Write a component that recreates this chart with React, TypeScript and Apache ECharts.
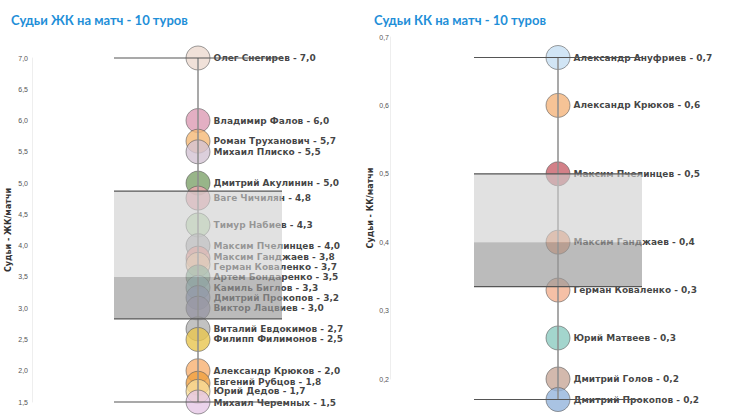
import React, { useEffect, useRef } from "react";
import * as echarts from "echarts";

const titleLeft = "Судьи ЖК на матч - 10 туров";
const titleRight = "Судьи КК на матч - 10 туров";
const axisNameLeft = "Судьи - ЖК/матчи";
const axisNameRight = "Судьи - КК/матчи";

const ykNames = [
  "Олег Снегирев", "Владимир Фалов", "Роман Труханович", "Михаил Плиско", "Дмитрий Акулинин",
  "Ваге Чичилян", "Тимур Набиев", "Максим Пчелинцев", "Максим Ганджаев", "Герман Коваленко",
  "Артем Бондаренко", "Камиль Биглов", "Дмитрий Прокопов", "Виктор Лацвиев", "Виталий Евдокимов",
  "Филипп Филимонов", "Александр Крюков", "Евгений Рубцов", "Юрий Дедов", "Михаил Черемных",
];
const ykValues = [7.0, 6.0, 5.67, 5.5, 5.0, 4.76, 4.33, 4.0, 3.8, 3.7, 3.5, 3.33, 3.17, 3.0, 2.67, 2.5, 2.0, 1.8, 1.67, 1.5];
const ykColors = [
  "#ecd9cf", "#dc9bb4", "#f5b976", "#d3c3d3", "#7ea26c",
  "#f0a8b0", "#bfe3b5", "#b8b8bc", "#f29a90", "#f8c9a0",
  "#7fb08f", "#8fc4c4", "#8fa0c8", "#a09cc0", "#b3b3b3",
  "#e8c64f", "#f8b070", "#f0a040", "#f8dc98", "#e6c8e6",
];
// vertical nudges of crowded labels (px)
const ykLabelShift = [0, 0, 0, 0, 0, 0, 0, 0, -1, 3, 0, 0, 0, 0, 0, 0, 0, -1, 0, 1];
// min, Q1, median, Q3, max
const ykBox = [1.5, 2.83, 3.5, 4.87, 7.0];

const kkNames = [
  "Александр Ануфриев", "Александр Крюков", "Максим Пчелинцев", "Максим Ганджаев",
  "Герман Коваленко", "Юрий Матвеев", "Дмитрий Голов", "Дмитрий Прокопов",
];
const kkValues = [0.67, 0.6, 0.5, 0.4, 0.33, 0.26, 0.2, 0.17];
const kkColors = ["#c6def2", "#f4b47c", "#c8606a", "#f39c70", "#f2b090", "#8ccac0", "#c8a898", "#94b4dc"];
const kkLabelShift = [0, 0, 0, 0, 0, 0, 0, 0];
const kkBox = [0.17, 0.335, 0.4, 0.5, 0.67];

const fmt = (v: number) => v.toFixed(1).replace(".", ",");

const HALF = 84;

function boxRender(params: any, api: any) {
  const c = api.coord([0, api.value(1)]);
  const cx = c[0];
  const yMin = c[1];
  const yQ1 = api.coord([0, api.value(2)])[1];
  const yMed = api.coord([0, api.value(3)])[1];
  const yQ3 = api.coord([0, api.value(4)])[1];
  const yMax = api.coord([0, api.value(5)])[1];
  const dark = "#555555";
  return {
    type: "group",
    children: [
      { type: "line", shape: { x1: cx, y1: yMax, x2: cx, y2: yMin }, style: { stroke: "#8c8c8c", lineWidth: 1.5 } },
      { type: "rect", shape: { x: cx - HALF, y: yQ3, width: 2 * HALF, height: yMed - yQ3 }, style: { fill: "rgba(205,205,205,0.6)" } },
      { type: "rect", shape: { x: cx - HALF, y: yMed, width: 2 * HALF, height: yQ1 - yMed }, style: { fill: "rgba(150,150,150,0.65)" } },
      { type: "line", shape: { x1: cx - HALF, y1: yQ3, x2: cx + HALF, y2: yQ3 }, style: { stroke: dark, lineWidth: 1.2 } },
      { type: "line", shape: { x1: cx - HALF, y1: yQ1, x2: cx + HALF, y2: yQ1 }, style: { stroke: dark, lineWidth: 1.2 } },
      { type: "line", shape: { x1: cx - HALF, y1: yMax, x2: cx + HALF, y2: yMax }, style: { stroke: dark, lineWidth: 1.2 } },
      { type: "line", shape: { x1: cx - HALF, y1: yMin, x2: cx + HALF, y2: yMin }, style: { stroke: dark, lineWidth: 1.2 } },
    ],
  };
}

function scatterData(names: string[], values: number[], colors: string[], shifts: number[]) {
  return names.map((n, i) => ({
    name: n,
    value: [0, values[i]],
    itemStyle: { color: colors[i] },
    label: { offset: [0, shifts[i]] },
  }));
}

const labelFont = {
  fontFamily: "DejaVu Sans",
  fontSize: 9,
  lineHeight: 9,
  fontWeight: "bold" as const,
  color: "#111",
};

export default function App() {
  const ref = useRef<HTMLDivElement>(null);
  useEffect(() => {
    if (!ref.current) return;
    const chart = echarts.init(ref.current, undefined, { renderer: "svg" });
    const yAxisCommon = {
      type: "value" as const,
      nameLocation: "middle" as const,
      nameTextStyle: { fontFamily: "DejaVu Sans", fontSize: 8, fontWeight: "bold" as const, color: "#333" },
      splitLine: { show: false },
      axisTick: { show: false },
      axisLine: { show: true, lineStyle: { color: "#eeeeee", width: 1 } },
      axisLabel: { fontFamily: "Liberation Sans", fontSize: 7, color: "#555", formatter: (v: number) => fmt(v) },
    };
    const scatterCommon = {
      type: "scatter" as const,
      z: 2,
      clip: false,
      symbolSize: 24,
      itemStyle: { opacity: 0.8, borderColor: "rgba(80,80,80,0.7)", borderWidth: 1 },
      label: {
        show: true,
        position: "right" as const,
        distance: 3,
        ...labelFont,
        formatter: (p: any) => `${p.name} - ${fmt(p.value[1])}`,
      },
    };
    chart.setOption({
      animation: false,
      backgroundColor: "#ffffff",
      title: [
        { text: titleLeft, left: 6, top: 8, textStyle: { fontFamily: "Lato", fontWeight: "bold", fontSize: 13, color: "#1f8fd8" } },
        { text: titleRight, left: 369, top: 8, textStyle: { fontFamily: "Lato", fontWeight: "bold", fontSize: 13, color: "#1f8fd8" } },
      ],
      grid: [
        { left: 32, top: 58, width: 332, height: 344 },
        { left: 390, top: 37, width: 336, height: 342 },
      ],
      xAxis: [
        { type: "category", gridIndex: 0, data: ["ЖК"], show: false },
        { type: "category", gridIndex: 1, data: ["КК"], show: false },
      ],
      yAxis: [
        { ...yAxisCommon, gridIndex: 0, min: 1.5, max: 7.0, interval: 0.5, name: axisNameLeft, nameGap: 20, axisLabel: { ...yAxisCommon.axisLabel, margin: 4 } },
        { ...yAxisCommon, gridIndex: 1, min: 0.2, max: 0.7, interval: 0.1, name: axisNameRight, nameGap: 16, axisLabel: { ...yAxisCommon.axisLabel, margin: 1 } },
      ],
      series: [
        {
          ...scatterCommon,
          xAxisIndex: 0,
          yAxisIndex: 0,
          data: scatterData(ykNames, ykValues, ykColors, ykLabelShift),
        },
        {
          ...scatterCommon,
          xAxisIndex: 1,
          yAxisIndex: 1,
          data: scatterData(kkNames, kkValues, kkColors, kkLabelShift),
        },
        {
          type: "custom",
          xAxisIndex: 0,
          yAxisIndex: 0,
          z: 5,
          clip: false,
          silent: true,
          renderItem: boxRender,
          data: [[0, ...ykBox]],
        },
        {
          type: "custom",
          xAxisIndex: 1,
          yAxisIndex: 1,
          z: 5,
          clip: false,
          silent: true,
          renderItem: boxRender,
          data: [[0, ...kkBox]],
        },
      ],
    });
    return () => chart.dispose();
  }, []);
  return <div ref={ref} style={{ width: 730, height: 420, position: "absolute", left: 0, top: 0 }} />;
}
